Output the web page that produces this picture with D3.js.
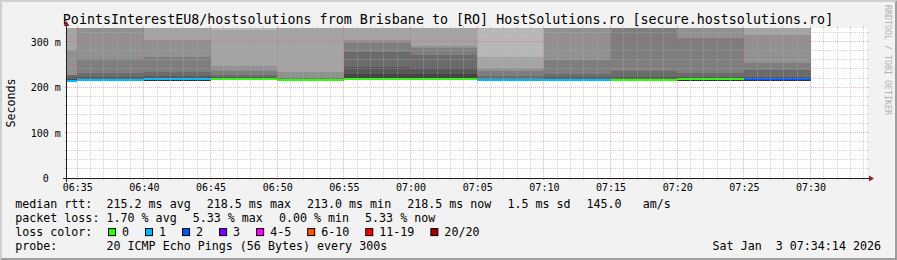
<!DOCTYPE html>
<html><head><meta charset="utf-8">
<script src="https://cdn.jsdelivr.net/npm/d3@7"></script>
<style>
html,body{margin:0;padding:0;background:#f2f2f2;}
svg{display:block;}
text{font-family:"DejaVu Sans Mono",monospace;white-space:pre;}
</style></head><body>
<svg id="chart" width="897" height="260"></svg>
<script>
// ---------------- data ----------------
const titleText = "PointsInterestEU8/hostsolutions from Brisbane to [RO] HostSolutions.ro [secure.hostsolutions.ro]";
const graphStart = "06:34:14";
const graphEnd = "07:34:14";
const intervalEnds = ["06:35","06:40","06:45","06:50","06:55","07:00","07:05","07:10","07:15","07:20","07:25","07:30"];
const medianMs = [213.0,215.6,218.5,217.1,214.9,217.1,217.1,214.9,215.6,215.6,218.0,218.5];
const lostPings = [1,1,1,0,0,0,0,1,1,0,0,2];
// 20 sorted ping times per interval (ms), null = lost
const pingsSorted = [
  [211.8,212.0,212.1,212.2,212.3,212.4,212.5,212.6,212.8,212.9, 214.5,217.8,222.2,227.3,227.4,281.6,340,355,372,null],
  [213.8,214.0,214.1,214.2,214.3,214.4,214.5,214.6,214.8,215.0, 216.5,217.8,221.5,231.0,261.8,332,338,347,362,null],
  [212.9,213.0,213.0,213.1,213.1,213.2,213.2,213.3,213.3,213.4, 219.0,220.7,223.7,233.9,266.9,303.6,338,350,370,null],
  [215.0,215.2,215.4,215.6,215.8,216.0,216.2,216.4,216.6,216.9, 217.8,219.3,222.9,227.3,236.1,247.1,325.6,338,346,365],
  [212.8,213.0,213.2,213.4,213.6,213.8,214.0,214.2,214.4,214.6, 215.5,216.8,217.8,220.0,220.2,233.9,335,345,360,380],
  [215.4,215.6,215.7,215.8,216.0,216.2,216.4,216.6,216.8,217.0, 219.3,228.8,244.9,277.2,296.3,303.6,336,348,365,390],
  [215.3,215.5,215.7,215.9,216.1,216.3,216.5,216.7,216.9,217.0, 219.3,228.8,241.3,270.6,286.0,290.4,334,347,362,385],
  [212.5,212.7,212.9,213.1,213.3,213.5,213.7,213.9,214.2,214.5, 216.0,217.0,217.8,225.1,236.1,242.0,266.9,335,350,null],
  [213.5,213.7,213.9,214.1,214.3,214.5,214.7,214.9,215.1,215.3, 216.6,217.8,221.5,228.8,259.6,333,342,355,372,null],
  [213.6,213.8,214.0,214.2,214.4,214.6,214.8,215.0,215.2,215.4, 216.6,217.8,221.5,236.1,331,334,342,355,375,400],
  [212.9,213.0,213.0,213.1,213.1,213.2,213.2,213.3,213.3,213.4, 219.0,220.0,222.9,231.0,308.0,332,336,348,365,390],
  [212.9,213.0,213.0,213.1,213.1,213.2,213.2,213.3,213.3,213.4, 219.5,220.7,222.9,237.6,253.0,314.6,338,352,null,null]
];
const yMaxMs = 330;
const yTicks = [0,100,200,300];
const yMinorStep = 20;
const yTickLabels = ["0\u00a0\u00a0","100 m","200 m","300 m"];
const lossLabels = ["0","1","2","3","4-5","6-10","11-19","20/20"];
const lossColors = ["#26ff00","#00b8ff","#0059ff","#7e00ff","#ff00ff","#ff5500","#ff0000","#a00000"];
const lossUpper = [0,1,2,3,5,10,19,20];
const rttStats = ["215.2 ms avg","218.5 ms max","213.0 ms min","218.5 ms now","1.5 ms sd","145.0   am/s"];
const lossStats = ["1.70 % avg","5.33 % max","0.00 % min","5.33 % now"];
const legendHeads = ["median rtt:","packet loss:","loss color:","probe:"];
const probeText = "20 ICMP Echo Pings (56 Bytes) every 300s";
const dateText = "Sat Jan  3 07:34:14 2026";
const watermark = "RRDTOOL / TOBI OETIKER";

// ---------------- layout ----------------
const W = 897, H = 260, X0 = 67, X1 = 867, Y0 = 178, Y1 = 28;
const day = "2026-01-03";
const T = s => new Date(`${day}T${s.length === 5 ? s + ":00" : s}Z`);
const x = d3.scaleUtc().domain([T(graphStart), T(graphEnd)]).range([X0, X1]);
const y = d3.scaleLinear().domain([0, yMaxMs]).range([Y0, Y1]);
const svg = d3.select("#chart");

svg.append("rect").attr("width", W).attr("height", H).attr("fill", "#f2f2f2");
// 3d border
svg.append("path").attr("fill", "#cfcfcf")
  .attr("d", `M0,${H} L2,${H-2} L2,2 L${W-2},2 L${W},0 L0,0 Z`);
svg.append("path").attr("fill", "#9e9e9e")
  .attr("d", `M2,${H-2} L${W-2},${H-2} L${W-2},2 L${W},0 L${W},${H} L0,${H} Z`);
// canvas
svg.append("rect").attr("x", X0).attr("y", Y1).attr("width", X1 - X0).attr("height", Y0 - Y1).attr("fill", "#ffffff");

// smoke
const half = 10;
const grays = d3.range(1, half + 1).map(k => { const v = Math.floor(190 / half * (half - k)) + 50; return d3.rgb(v, v, v).toString(); });
const plot = svg.append("g").attr("shape-rendering", "crispEdges");
intervalEnds.forEach((e, i) => {
  const t1 = T(e), t0 = new Date(t1.getTime() - 300000);
  const xa = Math.round(Math.max(x(t0), X0)), xb = Math.round(x(t1));
  const p = pingsSorted[i];
  for (let k = 1; k <= half; k++) {
    const lo = p[k - 1], hi = p[20 - k];
    if (lo == null || hi == null) continue;
    const hiC = Math.min(hi, yMaxMs);
    plot.append("rect").attr("x", xa).attr("width", xb - xa)
      .attr("y", y(hiC)).attr("height", Math.max(0, y(lo) - y(hiC)))
      .attr("fill", grays[k - 1]);
  }
});
// median bars coloured by loss
const swidth = yMaxMs / (Y0 - Y1);
intervalEnds.forEach((e, i) => {
  const t1 = T(e), t0 = new Date(t1.getTime() - 300000);
  const xa = Math.round(Math.max(x(t0), X0)), xb = Math.round(x(t1));
  const m = medianMs[i];
  const ci = lossUpper.findIndex(u => lostPings[i] <= u);
  plot.append("rect").attr("x", xa).attr("width", xb - xa)
    .attr("y", y(m + swidth)).attr("height", y(m - swidth) - y(m + swidth))
    .attr("fill", lossColors[ci]);
});

// grid
const grid = svg.append("g");
const px = v => Math.floor(v) + 0.5;
const minorCol = "rgba(175,175,175,0.55)", majorCol = "rgba(222,79,79,0.42)";
const yMinor = d3.range(yMinorStep, yMaxMs, yMinorStep).filter(v => !yTicks.includes(v));
const yMajor = yTicks.filter(v => v > 0);
const minutes = d3.utcMinute.range(T(graphStart), T(graphEnd));
const xMajor = minutes.filter(d => d.getUTCMinutes() % 5 === 0);
const xMinor = minutes.filter(d => d.getUTCMinutes() % 5 !== 0);
function hline(v, col) {
  const yy = px(y(v));
  grid.append("line").attr("x1", X0 - 2).attr("x2", X0).attr("y1", yy).attr("y2", yy).attr("stroke", col);
  grid.append("line").attr("x1", X1).attr("x2", X1 + 2).attr("y1", yy).attr("y2", yy).attr("stroke", col);
  grid.append("line").attr("x1", X0).attr("x2", X1).attr("y1", yy).attr("y2", yy).attr("stroke", col).attr("stroke-dasharray", "1,1");
}
function vline(d, col) {
  const xx = px(x(d));
  grid.append("line").attr("x1", xx).attr("x2", xx).attr("y1", Y0).attr("y2", Y0 + 2).attr("stroke", col);
  grid.append("line").attr("x1", xx).attr("x2", xx).attr("y1", Y1 - 2).attr("y2", Y1).attr("stroke", col);
  grid.append("line").attr("x1", xx).attr("x2", xx).attr("y1", Y1).attr("y2", Y0).attr("stroke", col).attr("stroke-dasharray", "1,1");
}
yMinor.forEach(v => hline(v, minorCol));
xMinor.forEach(d => vline(d, minorCol));
yMajor.forEach(v => hline(v, majorCol));
xMajor.forEach(d => vline(d, majorCol));

// axes lines + arrows
const ax = svg.append("g");
ax.append("line").attr("x1", X0 - 4).attr("x2", X1 + 4).attr("y1", Y0 + 0.5).attr("y2", Y0 + 0.5).attr("stroke", "#1f1f1f");
ax.append("line").attr("x1", X0 - 0.5).attr("x2", X0 - 0.5).attr("y1", Y0 + 4).attr("y2", Y1 - 4).attr("stroke", "#1f1f1f");
ax.append("path").attr("fill", "#8f1f1f")
  .attr("d", `M${X1 + 2},${Y0 + 0.5 - 3} L${X1 + 2},${Y0 + 0.5 + 3} L${X1 + 7},${Y0 + 0.5} Z`);
ax.append("path").attr("fill", "#8f1f1f")
  .attr("d", `M${X0 - 0.5 - 3},${Y1 - 2} L${X0 - 0.5 + 3},${Y1 - 2} L${X0 - 0.5},${Y1 - 7} Z`);

// axis labels via d3 axes
const xAxis = d3.axisBottom(x).tickValues(xMajor).tickFormat(d3.utcFormat("%H:%M")).tickSize(0).tickPadding(5.4);
const gx = svg.append("g").attr("transform", `translate(0,${Y0})`).call(xAxis);
gx.select(".domain").remove();
gx.selectAll("text").attr("font-family", "DejaVu Sans Mono").attr("font-size", 10).attr("fill", "#000");
gx.attr("font-family", null).attr("font-size", null);
const yAxis = d3.axisLeft(y).tickValues(yTicks).tickFormat((d, i) => yTickLabels[i]).tickSize(0).tickPadding(6.2);
const gy = svg.append("g").attr("transform", `translate(${X0},0)`).call(yAxis);
gy.select(".domain").remove();
gy.selectAll("text").attr("font-family", "DejaVu Sans Mono").attr("font-size", 10).attr("fill", "#000").attr("dy", "0.35em");
gy.attr("font-family", null).attr("font-size", null);

// title
svg.append("text").attr("x", 448).attr("y", 24).attr("text-anchor", "middle")
  .attr("font-size", 13.33).attr("fill", "#000").text(titleText);
// y label
svg.append("text").attr("transform", `translate(15.3,${(Y0 + Y1) / 2}) rotate(-90)`)
  .attr("text-anchor", "middle").attr("font-size", 11.67).attr("fill", "#000").text("Seconds");
// watermark
svg.append("text").attr("transform", `translate(884.6,5) rotate(90)`)
  .attr("font-size", 8.3).attr("fill", "#b0b0b0").text(watermark);

// legend
const LF = 11.67, L0 = 15.2, LV = 106.5, gap = 16;
const base = [207.7, 221.9, 236.1, 250.3];
const lg = svg.append("g").attr("font-size", LF).attr("fill", "#000");
legendHeads.forEach((h, i) => lg.append("text").attr("x", L0).attr("y", base[i]).text(h));
function row(items, yb) {
  let cx = LV;
  items.forEach(s => {
    const t = lg.append("text").attr("x", cx).attr("y", yb).text(s);
    cx += t.node().getComputedTextLength() + gap;
  });
}
row(rttStats, base[0]);
row(lossStats, base[1]);
let bx = 108;
lossLabels.forEach((l, i) => {
  lg.append("rect").attr("x", bx + 0.5).attr("y", base[2] - 7.5).attr("width", 7).attr("height", 7)
    .attr("fill", lossColors[i]).attr("stroke", "#000").attr("stroke-width", 1);
  const t = lg.append("text").attr("x", bx + 14).attr("y", base[2]).text(l);
  bx = bx + 14 + t.node().getComputedTextLength() + gap;
});
lg.append("text").attr("x", LV).attr("y", base[3]).text(probeText);
lg.append("text").attr("x", 881).attr("y", base[3]).attr("text-anchor", "end").text(dateText);
</script></body></html>
